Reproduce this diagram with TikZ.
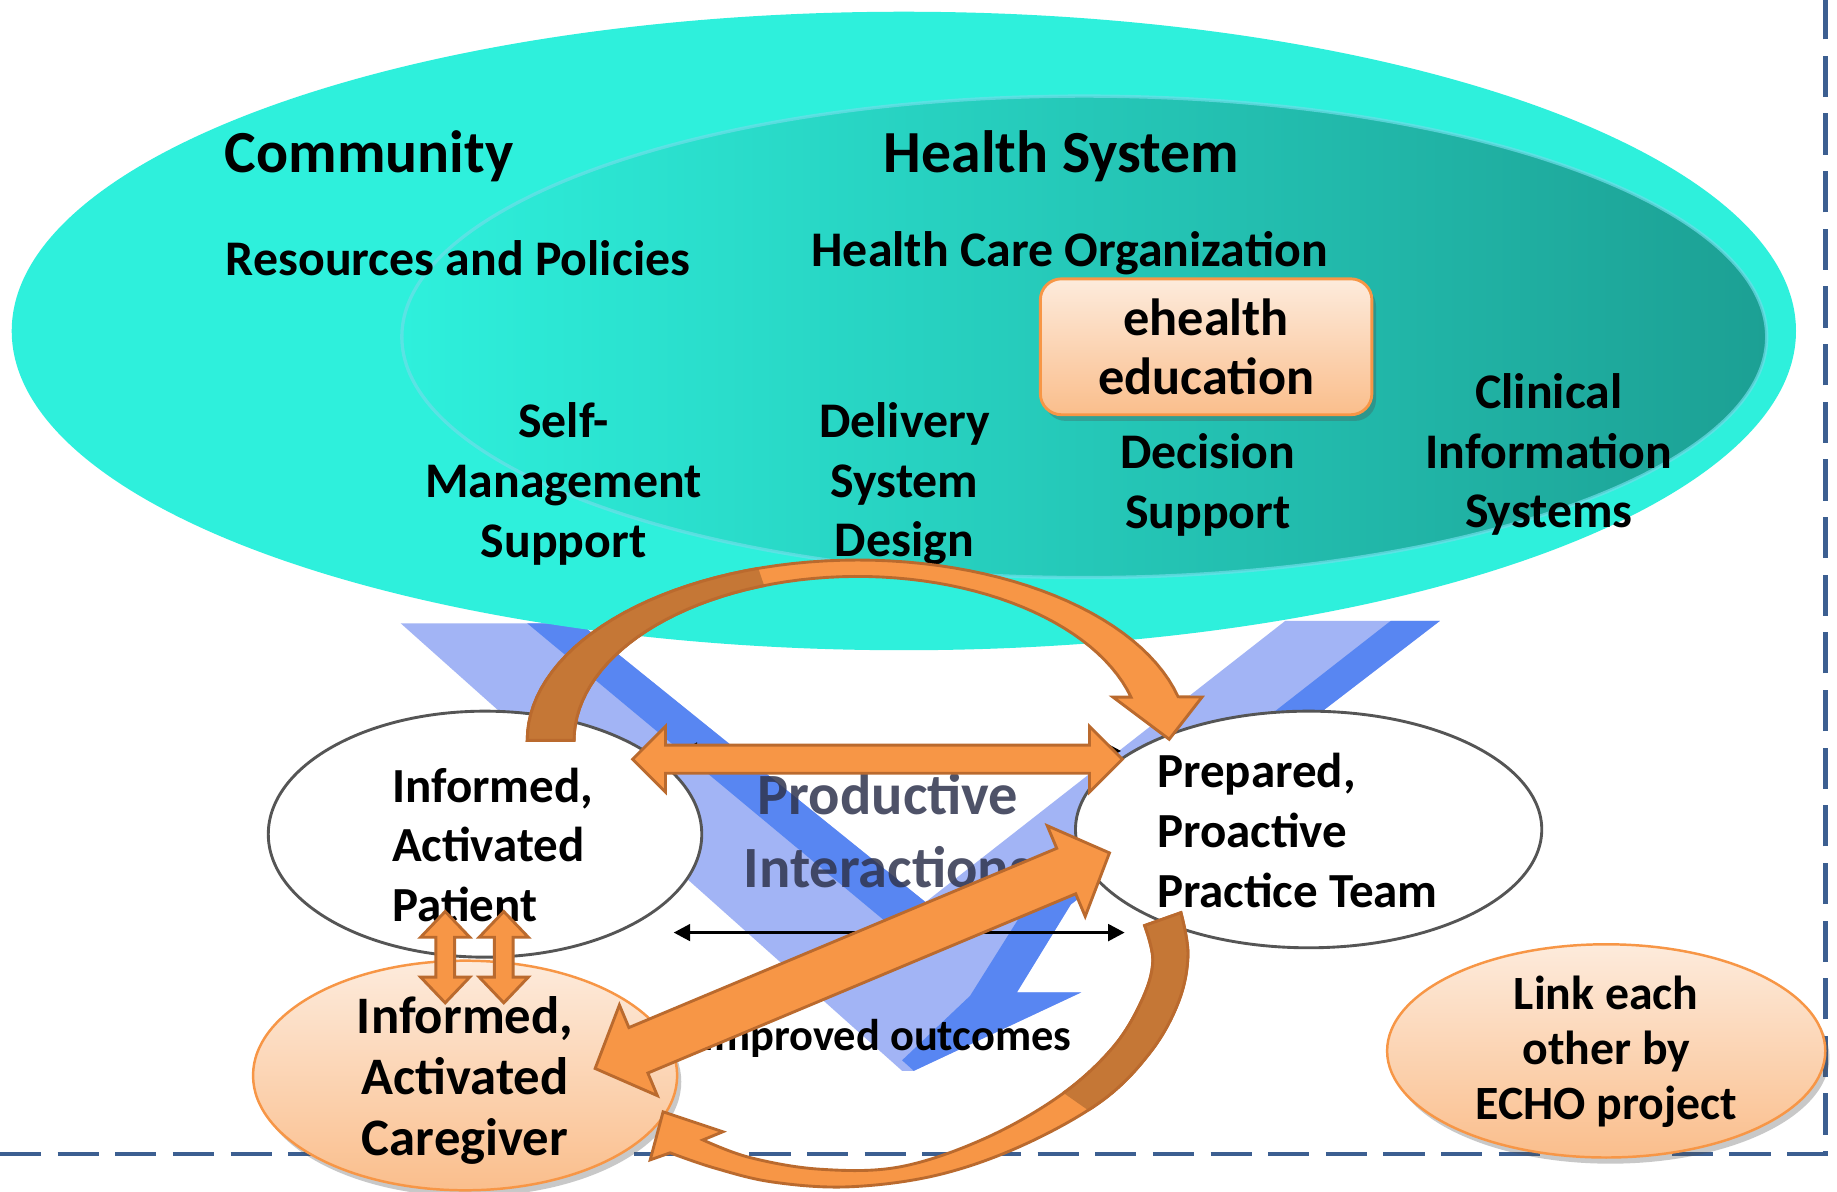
\documentclass[tikz,border=0pt]{standalone}
\usepackage{fontspec}
\setmainfont{Carlito}
\usetikzlibrary{shapes.geometric,shadows,arrows.meta}
\definecolor{cyanE}{RGB}{46,240,220}
\definecolor{tealR}{RGB}{28,160,148}
\definecolor{innerEdge}{RGB}{110,222,232}
\definecolor{peachT}{RGB}{253,235,220}
\definecolor{peachB}{RGB}{250,190,140}
\definecolor{orgStroke}{RGB}{247,150,70}
\definecolor{arrOr}{RGB}{247,150,70}
\definecolor{arrEdge}{RGB}{186,106,46}
\definecolor{arrBrown}{RGB}{197,119,54}
\definecolor{vLight}{RGB}{162,180,245}
\definecolor{vDark}{RGB}{88,134,242}
\definecolor{dashC}{RGB}{60,95,145}
\definecolor{ellEdge}{RGB}{85,85,85}
\definecolor{prodC}{RGB}{48,52,78}
\newcommand{\myfs}[2]{\fontsize{#1}{#2}\selectfont\bfseries}
\begin{document}
\begin{tikzpicture}[x=0.1mm,y=-0.1mm,
  lbl/.style={inner sep=0pt, align=center, text=black},
  orarr/.style={fill=arrOr, draw=arrEdge, line width=0.7pt, line join=miter},
  brarr/.style={fill=arrBrown, draw=arrEdge, line width=0.7pt, line join=miter},
  thinarr/.style={draw=black, line width=0.8pt, {Triangle[length=4pt,width=4pt]}-{Triangle[length=4pt,width=4pt]}},
  whiteell/.style={ellipse, draw=ellEdge, fill=white, line width=0.7pt, inner sep=0pt},
  peachell/.style={ellipse, draw=orgStroke, line width=0.6pt, top color=peachT, bottom color=peachB, inner sep=0pt},
  softshadow/.style={drop shadow={shadow xshift=1pt, shadow yshift=-1.5pt, opacity=0.3, fill=black!70}}
]
\useasboundingbox (0,0) rectangle (1568,1017);
\fill[white] (0,0) rectangle (1568,1017);

% ---------- blue V (productive interactions) ----------
\fill[vLight] (342,532) -- (495,532) -- (790,770) -- (1097,530) -- (1229,530) -- (914,772) -- (868,847) -- (923,847) -- (780,914) -- (770,914) -- cycle;
\fill[vDark] (450,532) -- (495,532) -- (790,770) -- (772,800) -- cycle;
\fill[vDark] (1187,530) -- (1229,530) -- (914,772) -- (868,847) -- (923,847) -- (780,914) -- (770,905) -- (828,850) -- (877,772) -- cycle;

% ---------- community / health system ellipses ----------
\fill[cyanE] (771.5,282.5) ellipse [x radius=761.5, y radius=272.5];
\shade[left color=cyanE, right color=tealR] (925.5,287.5) ellipse [x radius=582.5, y radius=205.5];
\draw[innerEdge, line width=0.8pt, opacity=0.7] (925.5,287.5) ellipse [x radius=582.5, y radius=205.5];

\node[lbl, font=\myfs{14.5}{17}] (comm) at (315,133) {Community};
\node[lbl, font=\myfs{14.5}{17}] (hsys) at (906,133) {Health System};
\node[lbl, font=\myfs{12.1}{14.5}] (res) at (391,220) {Resources and Policies};
\node[lbl, font=\myfs{12.1}{14.5}] (hco) at (913,216) {Health Care Organization};
\node[lbl, font=\myfs{12.1}{14.5}] (sms) at (481,413) {Self-\\Management\\Support};
\node[lbl, font=\myfs{12.1}{14.5}] (dsd) at (772,413) {Delivery\\System\\Design};
\node[lbl, font=\myfs{12.1}{14.5}] (dec) at (1031,414) {Decision\\Support};
\node[lbl, font=\myfs{12.1}{14.5}] (cis) at (1322,388) {Clinical\\Information\\Systems};

\node[rectangle, rounded corners=1.8mm, minimum width=28.3mm, minimum height=11.6mm,
      draw=orgStroke, line width=0.7pt, top color=peachT, bottom color=peachB, softshadow,
      inner sep=0pt, align=center, font=\myfs{12.7}{14.2}] (eh) at (1029.5,296) {ehealth\\education};

% ---------- patient / team ellipses ----------
\node[whiteell, minimum width=37mm, minimum height=21mm] (pat) at (414,712) {};
\node[whiteell, minimum width=39.8mm, minimum height=20.2mm] (prep) at (1117,708) {};
\node[lbl, anchor=west, align=left, font=\myfs{11.9}{14.5}] (patt) at (334,721) {Informed,\\Activated\\Patient};
\node[lbl, anchor=west, align=left, font=\myfs{11.9}{14.5}] (prept) at (987,709) {Prepared,\\Proactive\\Practice Team};

\node[inner sep=0pt, align=center, text=prodC, opacity=0.85, font=\myfs{14.2}{17.6}] (prod) at (758,709) {Productive\\Interactions};

\coordinate (t1a) at (581,641); \coordinate (t1b) at (957,641);
\coordinate (t2a) at (575,796); \coordinate (t2b) at (960,796);
\draw[thinarr] (t1a) -- (t1b);
\draw[thinarr] (t2a) -- (t2b);

\node[lbl, font=\myfs{10.8}{13}] (outc) at (757,886) {Improved outcomes};

% ---------- dashed frame ----------
\draw[dashC, line width=1.2pt, dash pattern=on 10pt off 4pt] (0,985) -- (1558,985) -- (1558,0);

% ---------- caregiver / link ellipses ----------
\node[peachell, softshadow, minimum width=36.2mm, minimum height=19.6mm] (cg) at (397,918) {};
\node[lbl, font=\myfs{12.8}{14.8}] (cgt) at (397,922) {Informed,\\Activated\\Caregiver};
\node[peachell, softshadow, minimum width=37.4mm, minimum height=18.2mm] (link) at (1371,897) {};
\node[lbl, font=\myfs{11.6}{13.4}] (linkt) at (1371,898) {Link each\\other by\\ECHO project};

% ---------- orange block arrows ----------
% horizontal double arrow patient <-> team
\path[orarr] (540,648) -- (568,620) -- (568,636) -- (930,636) -- (930,620) -- (958,648) -- (930,676) -- (930,660) -- (568,660) -- (568,676) -- cycle;
% small vertical double arrows patient <-> caregiver
\path[orarr] (380,778) -- (401,800) -- (388,800) -- (388,834) -- (401,834) -- (380,856) -- (359,834) -- (372,834) -- (372,800) -- (359,800) -- cycle;
\path[orarr] (430,778) -- (451,800) -- (438,800) -- (438,834) -- (451,834) -- (430,856) -- (409,834) -- (422,834) -- (422,800) -- (409,800) -- cycle;
% diagonal double arrow caregiver <-> team
\path[orarr] (508,912) -- (561.1,935.2) -- (553.0,915.9) -- (918.2,762.9) -- (926.3,782.2) -- (947,728) -- (893.9,704.8) -- (902.0,724.1) -- (536.8,877.1) -- (528.7,857.8) -- cycle;

% top curved arrow patient -> team
\path[orarr] plot[domain=180:346,samples=60,variable=\t] ({732+282*cos(\t)},{632+154*sin(\t)}) -- (1026,595) -- (998,631) -- (950,595) -- plot[domain=344.7:180,samples=60,variable=\t] ({732+242*cos(\t)},{632+140*sin(\t)}) -- cycle;
\begin{scope}
\clip (400,440) -- (632,440) -- (655,508) -- (520,690) -- (400,690) -- cycle;
\path[brarr] plot[domain=180:346,samples=60,variable=\t] ({732+282*cos(\t)},{632+154*sin(\t)}) -- (1026,595) -- (998,631) -- (950,595) -- plot[domain=344.7:180,samples=60,variable=\t] ({732+242*cos(\t)},{632+140*sin(\t)}) -- cycle;
\end{scope}

% bottom curved arrow team -> caregiver
\path[orarr] plot[smooth,tension=0.6] coordinates {(1008,779) (1014,815) (1006,855) (982,898) (940,940) (872,978) (800,1003) (725,1013) (660,1009) (610,997) (572,984)} -- (555,990) -- (566,949) -- (617,966) -- plot[smooth,tension=0.6] coordinates {(600,973) (640,988) (700,998) (768,996) (840,972) (905,935) (950,894) (975,853) (984,820) (977,790)} -- cycle;
\begin{scope}
\clip (950,740) -- (1100,740) -- (1100,1017) -- (950,1017) -- (935,952) -- (898,926) -- (940,740) -- cycle;
\path[brarr] plot[smooth,tension=0.6] coordinates {(1008,779) (1014,815) (1006,855) (982,898) (940,940) (872,978) (800,1003) (725,1013) (660,1009) (610,997) (572,984)} -- (555,990) -- (566,949) -- (617,966) -- plot[smooth,tension=0.6] coordinates {(600,973) (640,988) (700,998) (768,996) (840,972) (905,935) (950,894) (975,853) (984,820) (977,790)} -- cycle;
\end{scope}
\end{tikzpicture}
\end{document}
